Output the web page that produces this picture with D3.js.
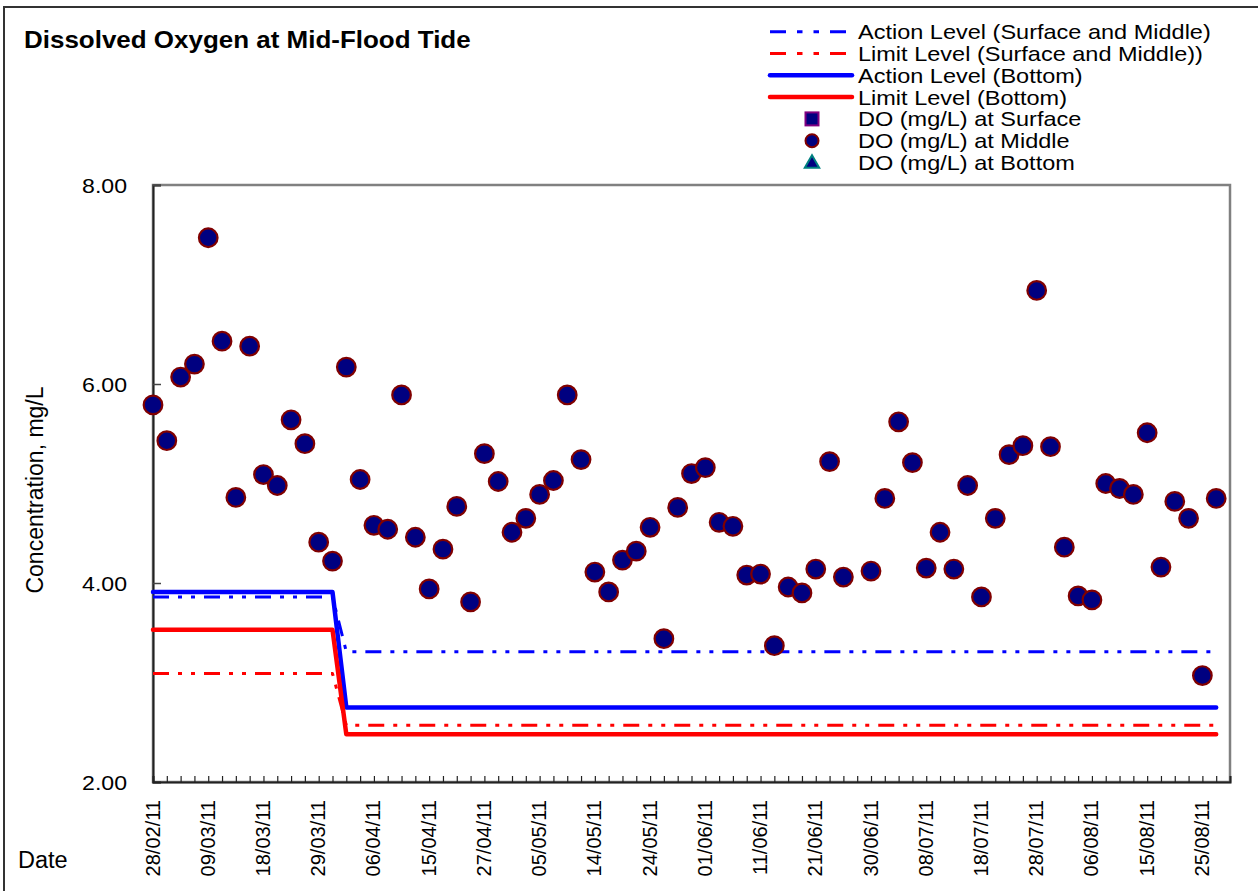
<!DOCTYPE html>
<html>
<head>
<meta charset="utf-8">
<script src="https://cdn.jsdelivr.net/npm/d3@7/dist/d3.min.js"></script>
<style>
  body { margin: 0; background: #fff; }
  svg { display: block; font-family: "Liberation Sans", Arial, sans-serif; }
</style>
</head>
<body>
<svg id="chart" width="1258" height="891"></svg>
<script>
// category count on the x axis (one slot per sampling day, last slot is empty)
var nCats = 79;

// every 4th category carries a date label
var tickLabels = ["28/02/11", "09/03/11", "18/03/11", "29/03/11", "06/04/11",
  "15/04/11", "27/04/11", "05/05/11", "14/05/11", "24/05/11", "01/06/11",
  "11/06/11", "21/06/11", "30/06/11", "08/07/11", "18/07/11", "28/07/11",
  "06/08/11", "15/08/11", "25/08/11"];

// DO (mg/L) at Middle, one per sampling day (null = no sample)
var doMiddle = [5.79, 5.43, 6.07, 6.20, 7.47, 6.43, 4.86, 6.38, 5.09, 4.98,
  5.64, 5.40, 4.41, 4.22, 6.17, 5.04, 4.58, 4.54, 5.89, 4.46,
  3.94, 4.34, 4.77, 3.81, 5.30, 5.02, 4.51, 4.65, 4.89, 5.03,
  5.89, 5.24, 4.11, 3.91, 4.23, 4.32, 4.56, 3.44, 4.76, 5.10,
  5.16, 4.61, 4.57, 4.08, 4.09, 3.37, 3.96, 3.90, 4.14, 5.22,
  4.06, null, 4.12, 4.85, 5.62, 5.21, 4.15, 4.51, 4.14, 4.98,
  3.86, 4.65, 5.29, 5.38, 6.94, 5.37, 4.36, 3.87, 3.83, 5.00,
  4.95, 4.89, 5.51, 4.16, 4.82, 4.65, 3.07, 4.85];
var doSurface = [];
var doBottom = [];

// action / limit levels: value before and after the change (change after day 13)
var levelChangeAt = 14;
var actionSM = [3.86, 3.31];
var limitSM = [3.09, 2.57];
var actionBottom = [3.91, 2.75];
var limitBottom = [3.53, 2.48];

var yTicks = [2, 4, 6, 8];

var svg = d3.select("#chart");

var x = d3.scaleLinear().domain([0, nCats - 1]).range([153, 1230]);
var y = d3.scaleLinear().domain([2, 8]).range([782, 185]);

// helper: text with a slight horizontal stretch like the original rendering
function label(g, txt, tx, ty, size, sx, opts) {
  opts = opts || {};
  var t = g.append("text")
    .attr("transform", "translate(" + tx + "," + ty + ")" + (opts.rot ? " rotate(" + opts.rot + ")" : "") + " scale(" + sx + ",1)")
    .attr("font-size", size)
    .attr("fill", "#000")
    .text(txt);
  if (opts.anchor) t.attr("text-anchor", opts.anchor);
  if (opts.bold) t.attr("font-weight", "bold");
  return t;
}

// chart area border
svg.append("rect")
  .attr("x", 4).attr("y", 7).attr("width", 1300).attr("height", 950)
  .attr("fill", "none").attr("stroke", "#333").attr("stroke-width", 2);

label(svg, "Dissolved Oxygen at Mid-Flood Tide", 24, 48, 24.5, 1.06, {bold: true});

// plot area frame
svg.append("rect")
  .attr("x", x(0)).attr("y", y(8))
  .attr("width", x(nCats - 1) - x(0)).attr("height", y(2) - y(8))
  .attr("fill", "none").attr("stroke", "#808080").attr("stroke-width", 2.5);

// y axis
var yAxis = svg.append("g").attr("transform", "translate(" + x(0) + ",0)")
  .call(d3.axisRight(y).tickValues(yTicks).tickSize(8).tickFormat(""));
yAxis.select(".domain").attr("stroke", "#222").attr("stroke-width", 2);
yAxis.selectAll(".tick line").attr("stroke", "#444").attr("stroke-width", 1.5);
yTicks.forEach(function(v) {
  label(svg, d3.format(".2f")(v), 127, y(v) + 7.5, 21, 1.1, {anchor: "end"});
});
label(svg, "Concentration, mg/L", 43, 490, 23, 1, {anchor: "middle", rot: -90});

// x axis: a small tick on every category
var xAxis = svg.append("g").attr("transform", "translate(0," + y(2) + ")")
  .call(d3.axisTop(x).tickValues(d3.range(nCats)).tickSize(6).tickFormat(""));
xAxis.select(".domain").attr("stroke", "#222").attr("stroke-width", 2);
xAxis.selectAll(".tick line").attr("stroke", "#222").attr("stroke-width", 1.2);
tickLabels.forEach(function(s, i) {
  label(svg, s, x(i * 4) + 6.5, 800, 20, 1, {anchor: "end", rot: -90});
});
label(svg, "Date", 18, 868, 23.5, 1);

// level lines
var lvlData = function(pair) {
  return d3.range(nCats - 1).map(function(i) {
    return [i, i < levelChangeAt ? pair[0] : pair[1]];
  });
};
var line = d3.line().x(function(d) { return x(d[0]); }).y(function(d) { return y(d[1]); });
var dashDotDot = "16,9,4,9,4,9";

var levels = [
  {vals: actionSM, color: "#0000ff", w: 3, dash: dashDotDot},
  {vals: limitSM, color: "#ff0000", w: 3, dash: dashDotDot},
  {vals: actionBottom, color: "#0000ff", w: 4.5, dash: null},
  {vals: limitBottom, color: "#ff0000", w: 4.5, dash: null}
];
// draw solid ones first so dashed lines stay visible on top
[2, 3, 0, 1].forEach(function(k) {
  var l = levels[k];
  svg.append("path")
    .attr("d", line(lvlData(l.vals)))
    .attr("fill", "none")
    .attr("stroke", l.color)
    .attr("stroke-width", l.w)
    .attr("stroke-linecap", l.dash ? "butt" : "round")
    .attr("stroke-linejoin", "round")
    .attr("stroke-dasharray", l.dash);
});

// data points
svg.append("g").selectAll("circle")
  .data(doMiddle.map(function(v, i) { return [i, v]; }).filter(function(d) { return d[1] != null; }))
  .join("circle")
  .attr("cx", function(d) { return x(d[0]); })
  .attr("cy", function(d) { return y(d[1]); })
  .attr("r", 9.3)
  .attr("fill", "#000080")
  .attr("stroke", "#800000")
  .attr("stroke-width", 2.2);

// legend
var leg = svg.append("g");
var legItems = [
  {name: "Action Level (Surface and Middle)", type: "line", color: "#0000ff", w: 3, dash: "16,11,5.5,11,5.5,11"},
  {name: "Limit Level (Surface and Middle))", type: "line", color: "#ff0000", w: 3, dash: "16,11,5.5,11,5.5,11"},
  {name: "Action Level (Bottom)", type: "line", color: "#0000ff", w: 4.5},
  {name: "Limit Level (Bottom)", type: "line", color: "#ff0000", w: 4.5},
  {name: "DO (mg/L) at Surface", type: "square"},
  {name: "DO (mg/L) at Middle", type: "circle"},
  {name: "DO (mg/L) at Bottom", type: "triangle"}
];
legItems.forEach(function(it, i) {
  var cy = 31.7 + i * 21.8;
  if (it.type == "line") {
    leg.append("line")
      .attr("x1", 770).attr("x2", it.dash ? 849 : 852)
      .attr("y1", cy).attr("y2", cy)
      .attr("stroke", it.color).attr("stroke-width", it.w)
      .attr("stroke-linecap", it.dash ? "butt" : "round")
      .attr("stroke-dasharray", it.dash || null);
  } else if (it.type == "square") {
    leg.append("rect").attr("x", 812 - 6.5).attr("y", cy - 6.5)
      .attr("width", 13).attr("height", 13)
      .attr("fill", "#000080").attr("stroke", "#800080").attr("stroke-width", 2);
  } else if (it.type == "circle") {
    leg.append("circle").attr("cx", 812).attr("cy", cy).attr("r", 6.5)
      .attr("fill", "#000080").attr("stroke", "#800000").attr("stroke-width", 2);
  } else {
    leg.append("path")
      .attr("d", d3.symbol(d3.symbolTriangle, 90)())
      .attr("transform", "translate(812," + (cy + 1) + ")")
      .attr("fill", "#000080").attr("stroke", "#008080").attr("stroke-width", 2);
  }
  label(leg, it.name, 858, cy + 7.5, 21, 1.12);
});
</script>
</body>
</html>
